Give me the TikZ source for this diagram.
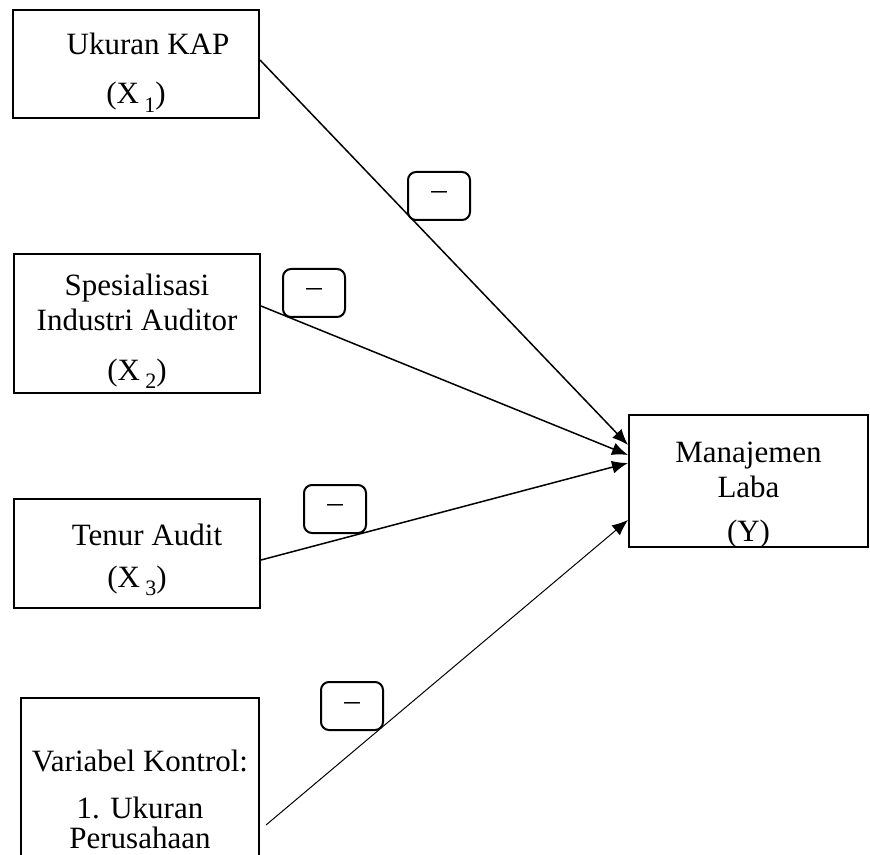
\documentclass[tikz,border=0pt]{standalone}
\usepackage{fontspec}
\setmainfont{Liberation Serif}
\usetikzlibrary{arrows.meta,positioning}
\tikzset{>={Latex[length=8pt,width=6.5pt]}}
\newcommand{\xsub}[1]{\,\raisebox{-0.6ex}{\fontsize{11}{12}\selectfont #1}}

\begin{document}
\begin{tikzpicture}[x=0.5pt,y=-0.5pt,
              var/.style={draw, line width=1pt, inner sep=0pt},
              txt/.style={align=center, inner sep=0pt,
                          font=\fontsize{15.5}{17.1}\selectfont},
              sign/.style={draw, line width=1pt, rounded corners=4pt,
                           minimum width=31pt, minimum height=24pt, inner sep=0pt,
                           font=\fontsize{15.5}{17.1}\selectfont},
              link/.style={line width=0.75pt, ->},
             ]
\useasboundingbox (0,0) rectangle (870,854);
\clip (0,0) rectangle (870,854);
% variables
\node[var, minimum width=123pt, minimum height=54pt] (kap) at (136,64) {};
\node[txt] (kaptext) at (136,72.5) {\hspace*{12pt}Ukuran KAP\\[7.4pt](X\xsub{1})};
\node[var, minimum width=123pt, minimum height=69.5pt] (sia) at (137,323.5) {};
\node[txt] (siatext) at (137,331.5) {Spesialisasi\\Industri Auditor\\[7.9pt](X\xsub{2})};
\node[var, minimum width=123pt, minimum height=54.5pt] (tenur) at (137,553.5) {};
\node[txt] (tenurtext) at (137,560) {\hspace*{10pt}Tenur Audit\\[3.9pt](X\xsub{3})};
\node[var, minimum width=119pt, minimum height=101pt] (kontrol) at (140,799) {};
\node[txt] (kontroltext) at (140,799) {Variabel Kontrol:\\[6.4pt]1. Ukuran\\[-2.1pt]Perusahaan};
\node[var, minimum width=119.5pt, minimum height=66pt] (laba) at (748.5,481) {};
\node[txt] (labatext) at (748.5,495) {Manajemen\\Laba\\[4.9pt](Y)};
% signs
\node[sign] (s1) at (439,196) {\textendash};
\node[sign] (s2) at (314,293) {\textendash};
\node[sign] (s3) at (335,509) {\textendash};
\node[sign] (s4) at (352,706) {\textendash};
% paths
\draw[link] ([yshift=2pt]kap.east) -- ([yshift=18pt]laba.west);
\draw[link] ([yshift=8.75pt]sia.east) -- ([yshift=13pt]laba.west);
\draw[link] ([yshift=-3.25pt]tenur.east) -- ([yshift=9pt]laba.west);
\draw[link, line width=0.5pt] ([xshift=3pt,yshift=-13pt]kontrol.east) -- ([yshift=-19.5pt]laba.west);
\end{tikzpicture}
\end{document}
